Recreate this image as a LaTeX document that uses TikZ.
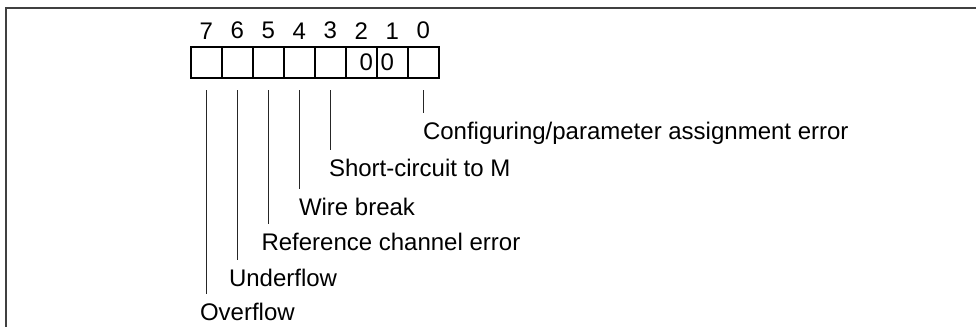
\documentclass[tikz,border=0pt]{standalone}
\usepackage{fontspec}
\setmainfont{Liberation Sans}
\usetikzlibrary{positioning}

\begin{document}
\begin{tikzpicture}[x=0.5pt, y=-0.5pt,
  font=\fontsize{12pt}{14pt}\selectfont,
  cell/.style={rectangle, draw, line width=1.1pt, minimum width=15.5pt, minimum height=15.5pt, inner sep=0pt, outer sep=0pt},
  bitno/.style={inner sep=0pt},
  lbl/.style={anchor=base west, inner sep=0pt, outer xsep=0pt, outer ysep=4.5pt},
  lead/.style={line width=0.6pt, black!85}]

  \useasboundingbox (0,0) rectangle (976,327);
  \draw[black!75, line width=1pt] (6,327) -- (6,8) -- (976,8);

  % status byte
  \node[cell] (b7) at (206.2,62.5) {};
  \node[cell, right=0pt of b7] (b6) {};
  \node[cell, right=0pt of b6] (b5) {};
  \node[cell, right=0pt of b5] (b4) {};
  \node[cell, right=0pt of b4] (b3) {};
  \node[cell, right=0pt of b3] (b2) {};
  \node[cell, right=0pt of b2] (b1) {};
  \node[cell, right=0pt of b1] (b0) {};
  \node[bitno] (z2) at ([xshift=2.5pt]b2.center) {0};
  \node[bitno] (z1) at ([xshift=-2.5pt]b1.center) {0};

  % bit numbers
  \node[bitno, above=3.75pt of b7] (n7) {7};
  \node[bitno, above=3.75pt of b6] (n6) {6};
  \node[bitno, above=3.75pt of b5] (n5) {5};
  \node[bitno, above=3.75pt of b4] (n4) {4};
  \node[bitno, above=3.75pt of b3] (n3) {3};
  \node[bitno, above=3.75pt of b2] (n2) {2};
  \node[bitno, above=3.75pt of b1] (n1) {1};
  \node[bitno, above=3.75pt of b0] (n0) {0};

  % meanings
  \node[lbl] (ovf) at (200,320) {Overflow};
  \node[lbl] (udf) at (229,286.5) {Underflow};
  \node[lbl] (ref) at (261.5,250.5) {Reference channel error};
  \node[lbl] (wbr) at (299,215) {Wire break};
  \node[lbl] (scm) at (329,176.5) {Short-circuit to M};
  \node[lbl] (cfg) at (423,139) {Configuring/parameter assignment error};

  \draw[lead] ([yshift=-6pt]b7.south) -- (b7 |- ovf.north);
  \draw[lead] ([yshift=-6pt]b6.south) -- (b6 |- udf.north);
  \draw[lead] ([yshift=-6pt]b5.south) -- (b5 |- ref.north);
  \draw[lead] ([yshift=-6pt]b4.south) -- (b4 |- wbr.north);
  \draw[lead] ([yshift=-6pt]b3.south) -- (b3 |- scm.north);
  \draw[lead] ([yshift=-6pt]b0.south) -- (b0 |- cfg.north);

\end{tikzpicture}
\end{document}
